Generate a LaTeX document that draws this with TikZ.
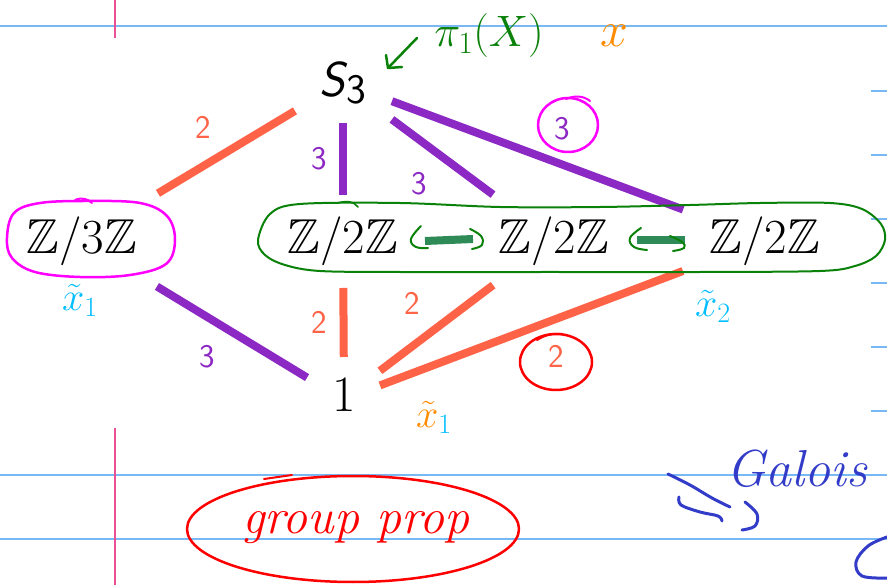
\RequirePackage{fix-cm}
\documentclass[tikz,border=0pt]{standalone}
\usepackage{fontspec}
\usepackage{amssymb}
\usetikzlibrary{calc}
\definecolor{rulec}{RGB}{120,185,245}
\definecolor{marginc}{RGB}{235,80,150}
\definecolor{edgeorange}{RGB}{255,99,71}
\definecolor{edgepurple}{RGB}{140,40,195}
\definecolor{hgreen}{RGB}{10,130,10}
\definecolor{barg}{RGB}{46,139,87}
\definecolor{hmag}{RGB}{255,0,255}
\definecolor{hcyan}{RGB}{0,190,255}
\definecolor{horange}{RGB}{255,140,0}
\definecolor{hred}{RGB}{255,0,0}
\definecolor{hblue}{RGB}{50,60,200}
\tikzset{
  grp/.style={inner sep=0pt, text height=35pt, text depth=0pt, font=\fontsize{49}{55}\selectfont},
  edgelbl/.style={inner sep=0pt, font=\sffamily\fontsize{33}{36}\selectfont},
  oedge/.style={draw=edgeorange, line width=8pt},
  pedge/.style={draw=edgepurple, line width=8pt},
  ink/.style={line width=2.5pt, line cap=round, line join=round},
  rulel/.style={draw=rulec, line width=2pt},
  marginl/.style={draw=marginc, line width=2pt},
  hand/.style={inner sep=0pt, font=\fontsize{40}{44}\selectfont},
}
\begin{document}
\begin{tikzpicture}[x=1pt,y=-1pt]
\useasboundingbox (0,0) rectangle (887,585);
\fill[white] (0,0) rectangle (887,585);
% notebook rules
\draw[rulel] (0,26.5) -- (887,26.5);
\draw[rulel] (0,475) -- (887,475);
\draw[rulel] (0,539) -- (887,539);
\foreach \yy in {90.7,154.7,218.7,282.7,346.7,410.7}
  \draw[rulel] (871,\yy) -- (887,\yy);
\draw[marginl] (115,0) -- (115,38);
\draw[marginl] (115,428) -- (115,585);

% main nodes
\node[grp] (s3) at (343,79) {\sffamily\itshape S\kern1pt\raisebox{-7pt}{\upshape\fontsize{42}{44}\selectfont 3}};
\node[grp] (z3) at (82,236) {$\mathbb{Z}/3\mathbb{Z}$};
\node[grp] (z2a) at (343,236) {$\mathbb{Z}/2\mathbb{Z}$};
\node[grp] (z2b) at (554,236) {$\mathbb{Z}/2\mathbb{Z}$};
\node[grp] (z2c) at (765,236) {$\mathbb{Z}/2\mathbb{Z}$};
\node[grp, text height=34pt, font=\fontsize{51}{55}\selectfont] (one) at (344,395) {1};

% edges
\draw[oedge] ($(s3)!0.184!(z3)+(0,3)$) -- ($(s3)!0.709!(z3)+(0,3)$);
\draw[pedge] ($(s3)!0.28!(z2a)$) -- ($(s3)!0.74!(z2a)$);
\draw[pedge] ($(s3)!0.232!(z2b)+(0,4)$) -- ($(s3)!0.711!(z2b)+(0,4)$);
\draw[pedge] ($(s3)!0.116!(z2c)+(0,4)$) -- ($(s3)!0.806!(z2c)+(0,4)$);
\draw[pedge] ($(z3)!0.286!(one)+(0,5)$) -- ($(z3)!0.859!(one)+(0,5)$);
\draw[oedge] ($(one)!0.239!(z2a)$) -- ($(one)!0.673!(z2a)$);
\draw[oedge] ($(one)!0.171!(z2b)+(0,3)$) -- ($(one)!0.71!(z2b)+(0,3)$);
\draw[oedge] ($(one)!0.0855!(z2c)+(0,4)$) -- ($(one)!0.805!(z2c)+(0,4)$);

% edge labels
\node[edgelbl, text=edgeorange] (l1) at (203,127) {2};
\node[edgelbl, text=edgepurple] (l2) at (319,159) {3};
\node[edgelbl, text=edgepurple] (l3) at (419,184) {3};
\node[edgelbl, text=edgepurple] (l4) at (562,129) {3};
\node[edgelbl, text=edgepurple] (l5) at (207,357) {3};
\node[edgelbl, text=edgeorange] (l6) at (319,322) {2};
\node[edgelbl, text=edgeorange] (l7) at (412,303) {2};
\node[edgelbl, text=edgeorange] (l8) at (556,356) {2};

% handwritten annotations
\draw[ink, hgreen, line width=2pt] plot[smooth cycle, tension=0.55] coordinates {(258,240) (270,214) (300,204) (400,203) (500,207) (600,207) (690,205) (760,203) (830,203) (862,209) (881,224) (885,240) (876,256) (855,266) (820,271) (700,272) (550,272) (400,272) (320,271) (285,265) (265,255)};
\draw[ink, hgreen, line width=1.6pt] (338,203) .. controls (348,200) and (354,202) .. (358,207);
\draw[ink, hmag] plot[smooth cycle, tension=0.6] coordinates {(7,238) (14,213) (40,203) (88,201) (140,203) (167,216) (175,240) (166,264) (130,275) (80,277) (35,272) (12,258)};
\draw[ink, hmag, line width=2pt] (75,200) .. controls (82,197) and (88,199) .. (92,203);
\draw[ink, hmag] (568,125) ellipse [x radius=30pt, y radius=27pt];
\draw[ink, hmag, line width=2pt] (566,99) .. controls (575,95) and (584,96) .. (590,101);
\draw[ink, hred] (556,362) ellipse [x radius=36pt, y radius=28pt];
\draw[ink, hred, line width=2pt] (537,340) .. controls (545,335) and (553,333) .. (562,334);
\draw[ink, hred] (353,529) ellipse [x radius=166pt, y radius=53pt];
\draw[ink, hred, line width=2pt] (264,479) -- (292,475);

% green arrows between Z/2Z
\draw[barg, line width=8pt] (425,241) -- (473,239);
\draw[barg, line width=8pt] (637,240) -- (685,240);
\draw[ink, hgreen, line width=2pt] plot[smooth, tension=0.7] coordinates {(421,226) (411,239) (416,247) (428,248)};
\draw[ink, hgreen, line width=2pt] plot[smooth, tension=0.7] coordinates {(470,229) (481,236) (482,245) (472,249)};
\draw[ink, hgreen, line width=2pt] plot[smooth, tension=0.7] coordinates {(641,228) (630,238) (634,247) (647,250)};
\draw[ink, hgreen, line width=2pt] plot[smooth, tension=0.7] coordinates {(670,236) (682,242) (684,248) (673,251)};

% pi_1(X) with arrow
\node[hand, text=hgreen, font=\fontsize{44}{48}\selectfont] (pi) at (489,36) {$\pi_1(X)$};
\coordinate (pitail) at (417,38);
\coordinate (pitip) at (388,68);
\draw[ink, hgreen] (pitail) -- (pitip);
\draw[ink, hgreen] ($(pitip)+(-2,-13)$) -- (pitip) -- ($(pitip)+(14,-1)$);
\node[hand, text=horange, font=\fontsize{50}{54}\selectfont] (xmark) at (614,36) {$x$};

% tilde x labels
\node[hand, text=hcyan] (xt1) at (80,300) {$\tilde{x}_1$};
\node[hand, text=hcyan] (xt2) at (713,306) {$\tilde{x}_2$};
\node[hand] (xt3) at (434,417) {$\textcolor{horange}{\tilde{x}}_{\textcolor{hcyan}{1}}$};

% group prop
\node[hand, text=hred, font=\itshape\fontsize{50}{54}\selectfont, anchor=base] (gp) at (356,533) {group prop};

% Galois
\node[hand, text=hblue, font=\itshape\fontsize{52}{56}\selectfont, anchor=base] (gal) at (797,486) {Galois};
\draw[ink, hblue, line width=3pt] plot[smooth, tension=0.6] coordinates {(668,474) (690,485) (712,498) (730,507)};
\draw[ink, hblue, line width=3pt] plot[smooth, tension=0.6] coordinates {(679,497) (681,505) (700,512) (718,516) (722,521)};
\draw[ink, hblue, line width=3pt] plot[smooth, tension=0.6] coordinates {(745,502) (757,514) (755,526) (742,530)};
\draw[ink, hblue, line width=3pt] plot[smooth, tension=0.6] coordinates {(887,537) (868,546) (856,562) (862,576) (887,578)};
\end{tikzpicture}
\end{document}
